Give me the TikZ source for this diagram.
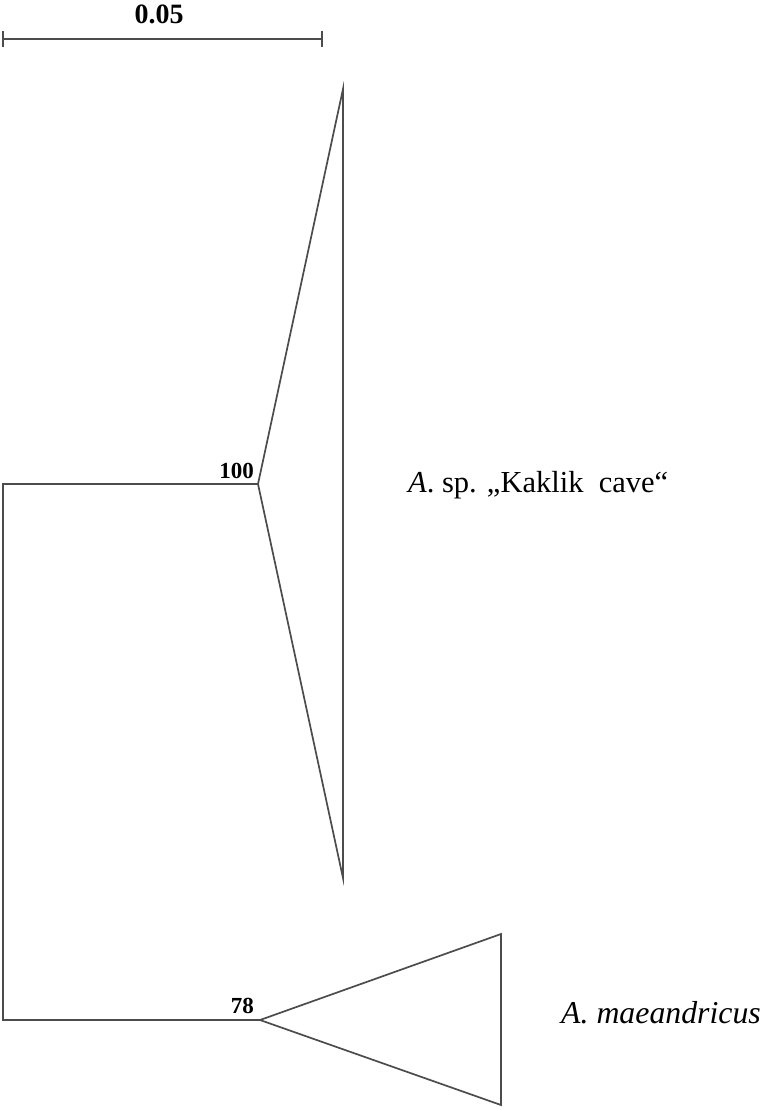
\documentclass[tikz,border=0pt]{standalone}
\usepackage{fontspec}
\setmainfont{Liberation Serif}
\usepackage{tikz}
\usetikzlibrary{positioning, calc}

\tikzset{
  branch/.style={draw=black!70, line width=1.7pt, line join=miter},
  support/.style={font=\fontsize{23}{26}\selectfont\bfseries, inner sep=0pt},
  taxon/.style={inner sep=0pt, anchor=base west}
}

\begin{document}
\begin{tikzpicture}[x=1pt, y=-1pt]
  \useasboundingbox (0,0) rectangle (763,1110);

  % Scale bar
  \coordinate (sbl) at (3,39);
  \coordinate (sbr) at (322,39);
  \draw[branch] (sbl) -- (sbr);
  \draw[branch] ($(sbl)+(0,-8)$) -- ($(sbl)+(0,8)$);
  \draw[branch] ($(sbr)+(0,-8)$) -- ($(sbr)+(0,8)$);
  \node[font=\fontsize{28}{32}\selectfont\bfseries, inner sep=0pt] (sblabel) at (159,14) {0.05};

  % Tree nodes
  \coordinate (kak) at (258,484);
  \coordinate (mae) at (260,1020);
  \coordinate (kakbase) at (3,484);
  \coordinate (maebase) at (3,1020);

  % Backbone
  \draw[branch] (kak) -- (kakbase) -- (maebase) -- (mae);

  % Collapsed clade: Kaklik cave
  \coordinate (kaktop) at (343,89);
  \coordinate (kakbot) at (343,878);
  \draw[branch] (kak) -- (kaktop) -- (kakbot) -- cycle;
  \node[support, anchor=south east] (kaksup) at (254,479) {100};
  \node[taxon, font=\fontsize{30.5}{36}\selectfont] (kaklabel) at (408,492)
        {\textit{A}. sp. „Kaklik~ cave“};

  % Collapsed clade: maeandricus
  \coordinate (maetop) at (501,934);
  \coordinate (maebot) at (501,1105);
  \draw[branch] (mae) -- (maetop) -- (maebot) -- cycle;
  \node[support, anchor=south east] (maesup) at (254,1014) {78};
  \node[taxon, font=\fontsize{31.8}{36}\selectfont\itshape] (maelabel) at (561,1023)
        {A. maeandricus};
\end{tikzpicture}
\end{document}
